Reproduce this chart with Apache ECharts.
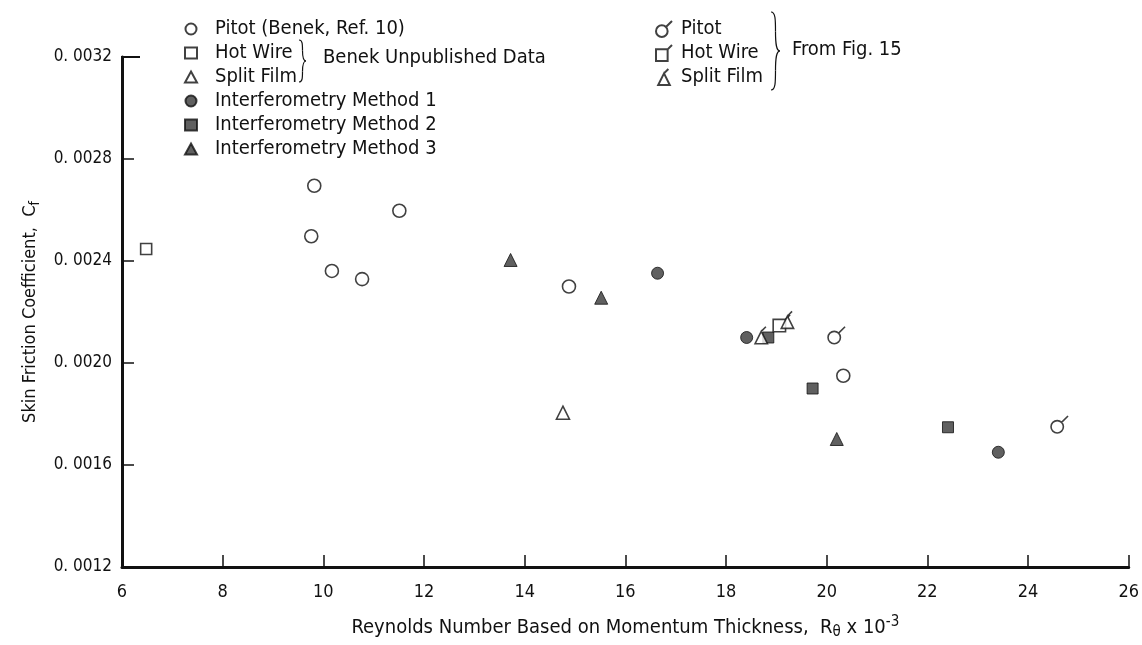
<!DOCTYPE html>
<html>
<head>
<meta charset="utf-8">
<script src="https://cdn.jsdelivr.net/npm/echarts@6/dist/echarts.min.js"></script>
<style>html,body{margin:0;padding:0;background:#fff}#c{width:1142px;height:645px}</style>
</head>
<body>
<div id="c"></div>
<script>
// ---- data (Reynolds number x 1e-3, skin friction coefficient) ----
const xTicks = [6, 8, 10, 12, 14, 16, 18, 20, 22, 24, 26];
const yTicks = [0.0012, 0.0016, 0.0020, 0.0024, 0.0028, 0.0032];
const pitotBenek = [[9.82, 0.002695], [9.76, 0.002497], [10.17, 0.002361], [10.77, 0.002329], [11.51, 0.002597], [14.88, 0.0023], [20.33, 0.00195]];
const hotWire = [[6.48, 0.002447]];
const splitFilm = [[14.76, 0.001805]];
const interf1 = [[16.64, 0.002352], [18.41, 0.0021], [23.41, 0.00165]];
const interf2 = [[18.84, 0.0021], [19.72, 0.0019], [22.41, 0.001748]];
const interf3 = [[13.72, 0.002404], [15.52, 0.002256], [20.2, 0.001702]];
const pitotFig15 = [[20.15, 0.0021], [24.58, 0.00175]];
const hotWireFig15 = [[19.06, 0.002147]];
const splitFilmFig15 = [[18.7, 0.0021], [19.22, 0.00216]];

const FONT = "'Liberation Sans Narrow','DejaVu Sans Condensed','DejaVu Sans',sans-serif";
const INK = '#111';
const FILL = '#383838';

const circTick = 'path://M1,9C1,6.79 2.79,5 5,5C7.21,5 9,6.79 9,9C9,11.21 7.21,13 5,13C2.79,13 1,11.21 1,9ZM7.83,6.17L12,2';
const squareTick = 'path://M1,5L9,5L9,13L1,13ZM9,5L12,2';
const triTick = 'path://M1,13L9,13L5,5ZM5,5L8,2';

const openStyle = { color: '#fff', borderColor: INK, borderWidth: 1.6 };
const filledStyle = { color: FILL, borderColor: INK, borderWidth: 1 };

function sc(name, data, symbol, size, style, extra) {
  return Object.assign({
    type: 'scatter', name, data, symbol, symbolSize: size,
    itemStyle: style, emphasis: { disabled: true }, z: 3
  }, extra || {});
}

const series = [
  sc('Pitot (Benek, Ref. 10)', pitotBenek, 'circle', 13, openStyle),
  sc('Hot Wire', hotWire, 'rect', 11, openStyle),
  sc('Split Film', splitFilm, 'triangle', 13, openStyle),
  sc('Interferometry Method 1', interf1, 'circle', 12, filledStyle),
  sc('Interferometry Method 2', interf2, 'rect', 11, filledStyle),
  sc('Interferometry Method 3', interf3, 'triangle', 13, filledStyle),
  sc('Pitot (Fig. 15)', pitotFig15, circTick, 17, openStyle, { symbolKeepAspect: true, symbolOffset: [2.3, -2.3] }),
  sc('Hot Wire (Fig. 15)', hotWireFig15, squareTick, 17, openStyle, { symbolKeepAspect: true, symbolOffset: [2.3, -2.3] }),
  sc('Split Film (Fig. 15)', splitFilmFig15, triTick, 17, openStyle, { symbolKeepAspect: true, symbolOffset: [0, -2.3] })
];

function brace(x, y0, y1, w) {
  const ym = (y0 + y1) / 2, h = y1 - y0;
  const st = { stroke: INK, lineWidth: 1.2, fill: 'none' };
  const mk = (a, b, c, d) => ({ type: 'bezierCurve', shape: { x1: a[0], y1: a[1], cpx1: b[0], cpy1: b[1], cpx2: c[0], cpy2: c[1], x2: d[0], y2: d[1] }, style: st });
  return [
    mk([x, y0], [x + w * 0.5, y0], [x + w * 0.5, y0 + h * 0.1], [x + w * 0.5, y0 + h * 0.25]),
    mk([x + w * 0.5, y0 + h * 0.25], [x + w * 0.5, y0 + h * 0.42], [x + w * 0.6, ym], [x + w, ym]),
    mk([x + w, ym], [x + w * 0.6, ym], [x + w * 0.5, y1 - h * 0.42], [x + w * 0.5, y1 - h * 0.25]),
    mk([x + w * 0.5, y1 - h * 0.25], [x + w * 0.5, y1 - h * 0.1], [x + w * 0.5, y1], [x, y1])
  ];
}

const LEG_FS = 20;
const legText = { fontSize: LEG_FS, fontFamily: FONT, color: INK, lineHeight: 20 };
const chart = echarts.init(document.getElementById('c'), null, { renderer: 'canvas' });
chart.setOption({
  animation: false,
  backgroundColor: '#fff',
  textStyle: { fontFamily: FONT, color: INK },
  grid: { left: 122, right: 12, top: 57, bottom: 78, containLabel: false },
  xAxis: {
    type: 'value', min: xTicks[0], max: xTicks[xTicks.length - 1], interval: 2,
    axisLine: { lineStyle: { color: INK, width: 3 } },
    axisTick: { inside: true, length: 12, lineStyle: { color: INK, width: 1.5 } },
    splitLine: { show: false },
    axisLabel: { color: INK, fontSize: 18, fontFamily: FONT, margin: 16 },
    name: '{n|Reynolds Number Based on Momentum Thickness,  R}{sub|θ}{n| x 10}{sup|-3}',
    nameLocation: 'middle', nameGap: 48,
    nameTextStyle: {
      rich: {
        n: { fontSize: 20, fontFamily: FONT, color: INK },
        sub: { fontSize: 15, fontFamily: FONT, color: INK, padding: [10, 0, 0, 0] },
        sup: { fontSize: 15, fontFamily: FONT, color: INK, padding: [0, 0, 10, 0] }
      }
    }
  },
  yAxis: {
    type: 'value', min: yTicks[0], max: yTicks[yTicks.length - 1], interval: 0.0004,
    axisLine: { lineStyle: { color: INK, width: 3 } },
    axisTick: { inside: true, length: 12, lineStyle: { color: INK, width: 1.5 } },
    splitLine: { show: false },
    axisLabel: { color: INK, fontSize: 17, fontFamily: FONT, margin: 10, formatter: v => v.toFixed(4).replace('0.', '0. ') },
    name: '{n|Skin Friction Coefficient,  C}{sub|f}',
    nameLocation: 'middle', nameGap: 78, nameRotate: 90,
    nameTextStyle: {
      rich: {
        n: { fontSize: 18, fontFamily: FONT, color: INK },
        sub: { fontSize: 14, fontFamily: FONT, color: INK, padding: [10, 0, 0, 0] }
      }
    }
  },
  legend: [
    {
      orient: 'vertical', left: 179, top: 14, itemWidth: 12, itemHeight: 11, itemGap: 4,
      selectedMode: false,
      data: ['Pitot (Benek, Ref. 10)', 'Hot Wire', 'Split Film', 'Interferometry Method 1', 'Interferometry Method 2', 'Interferometry Method 3'],
      textStyle: Object.assign({ padding: [0, 0, 0, 13] }, legText)
    },
    {
      orient: 'vertical', left: 650, top: 14, itemWidth: 16, itemHeight: 16, itemGap: 4,
      selectedMode: false,
      data: ['Pitot (Fig. 15)', 'Hot Wire (Fig. 15)', 'Split Film (Fig. 15)'],
      formatter: n => n.replace(' (Fig. 15)', ''),
      textStyle: Object.assign({ padding: [0, 0, 0, 4] }, legText)
    }
  ],
  graphic: [
    { type: 'text', left: 323, top: 48, style: { text: 'Benek Unpublished Data', fontSize: LEG_FS, fontFamily: FONT, fill: INK } },
    { type: 'text', left: 792, top: 40, style: { text: 'From Fig. 15', fontSize: LEG_FS, fontFamily: FONT, fill: INK } },
    { type: 'line', shape: { x1: 121, y1: 57, x2: 140, y2: 57 }, style: { stroke: INK, lineWidth: 2 }, z: 10 },
    ...brace(299, 40, 82, 7),
    ...brace(771, 12, 90, 9)
  ],
  series
});
</script>
</body>
</html>
